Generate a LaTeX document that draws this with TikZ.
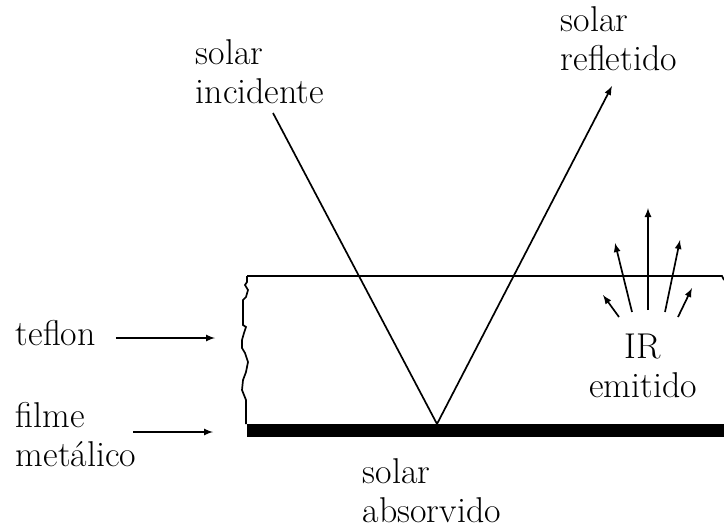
\documentclass[tikz,border=0pt]{standalone}
\begin{document}
\begin{tikzpicture}[x=0.025cm, y=-0.025cm, >=latex, line width=1.2pt,
    lbl/.style={font=\fontsize{25.5}{27.5}\selectfont, align=left, anchor=base west, inner sep=0pt}]
\useasboundingbox (0,0) rectangle (724,528);
% filme metalico e teflon
\fill (247,424) rectangle (724,437);
\draw (247,276) -- (722,276) -- (724,280);
\draw (247,276) -- (247,282) -- (245,285) -- (248,290) -- (246,297) -- (243,300) -- (243,325)
  -- (246,327) -- (244,333) -- (242,340) -- (242,348) -- (245,353) -- (248,362) -- (246,372)
  -- (243,380) -- (242,390) -- (246,400) -- (246,424);
% textos (ancorados na linha de base da ultima linha)
\node[lbl] (inclbl) at (195,103) {solar\\incidente};
\node[lbl] (reflbl) at (560,70) {solar\\refletido};
\node[lbl] (teflbl) at (15,345) {teflon};
\node[lbl] (filmlbl) at (15,466) {filme\\metálico};
\node[lbl, align=center, anchor=base] (irlbl) at (643,397) {IR\\emitido};
\node[lbl] (abslbl) at (362,522) {solar\\absorvido};
% raios solares
\coordinate (inc) at (273,113);
\coordinate (hit) at (437,424);
\coordinate (ref) at (612,86);
\draw (inc) -- (hit);
\draw[->] (hit) -- (ref);
% setas das camadas
\coordinate (tefin) at (215,338);
\coordinate (filmout) at (133,432);
\coordinate (filmin) at (213,432);
\draw[->] ([xshift=0.48cm]teflbl.east |- tefin) -- (tefin);
\draw[->] (filmout) -- (filmin);
% IR emitido
\foreach \n/\a/\b/\c/\d in {1/619/317/603/295, 2/632/312/615/243, 3/648/310/648/208,
                            4/665/312/680/240, 5/678/317/692/288}
  {
  \coordinate (ir\n s) at (\a,\b);
  \coordinate (ir\n e) at (\c,\d);
  \draw[->] (ir\n s) -- (ir\n e);
  }
\end{tikzpicture}
\end{document}
